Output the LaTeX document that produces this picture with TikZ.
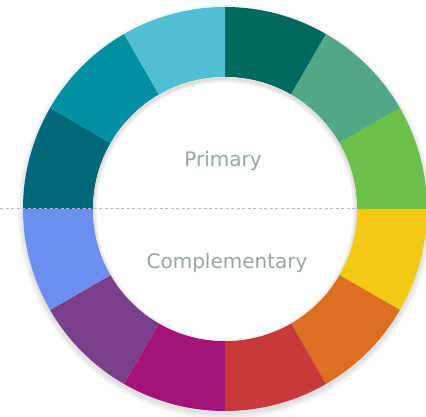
\documentclass[tikz,border=0pt]{standalone}
\usepackage{fontspec}
\setsansfont{DejaVu Sans}
\usetikzlibrary{calc}
\definecolor{wheelA}{HTML}{00695E}
\definecolor{wheelB}{HTML}{52A886}
\definecolor{wheelC}{HTML}{6CC04A}
\definecolor{wheelD}{HTML}{F2C913}
\definecolor{wheelE}{HTML}{DD7020}
\definecolor{wheelF}{HTML}{C9383A}
\definecolor{wheelG}{HTML}{A5137A}
\definecolor{wheelH}{HTML}{7A3F8B}
\definecolor{wheelI}{HTML}{6D8FF0}
\definecolor{wheelJ}{HTML}{00687A}
\definecolor{wheelK}{HTML}{0090A2}
\definecolor{wheelL}{HTML}{4FBFD3}
\definecolor{labelgray}{HTML}{97A6A5}

\begin{document}
\begin{tikzpicture}[x=1pt,y=1pt,
    wheellabel/.style={text=labelgray,anchor=base,font=\sffamily\fontsize{20}{24}\selectfont}]
  \useasboundingbox (0,0) rectangle (426,417);
  \coordinate (c) at (225,208);
  % soft shadow under the ring
  \foreach \r in {203,205,207}
    \fill[black,opacity=0.04] ($(c)+(0,-3)$) circle[radius=\r];
  % twelve segments, clockwise from the top
  \foreach \col [count=\k from 0] in {wheelA,wheelB,wheelC,wheelD,wheelE,wheelF,wheelG,wheelH,wheelI,wheelJ,wheelK,wheelL}{
    \pgfmathsetmacro{\a}{90-30*\k}
    \fill[\col] ($(c)+(\a:202)$) arc[start angle=\a, end angle=\a-30, radius=202]
      -- ($(c)+(\a-30:132)$) arc[start angle=\a-30, end angle=\a, radius=132] -- cycle;
  }
  \fill[white] (c) circle[radius=132];
  % inner shadow along the top of the hole
  \begin{scope}
    \clip (c) circle[radius=132];
    \foreach \w in {2,4,6,8}
      \draw[black,opacity=0.03,line width=\w] ($(c)+(0,-2)$) circle[radius=132];
  \end{scope}
  \coordinate (dl) at (0,208);
  \coordinate (dr) at (357,208);
  \draw[gray!55,line width=1,dash pattern=on 3 off 2.5] (dl) -- (dr);
  \node[wheellabel] (primary) at (223,250) {Primary};
  \node[wheellabel] (complementary) at (227,148) {Complementary};
\end{tikzpicture}
\end{document}
